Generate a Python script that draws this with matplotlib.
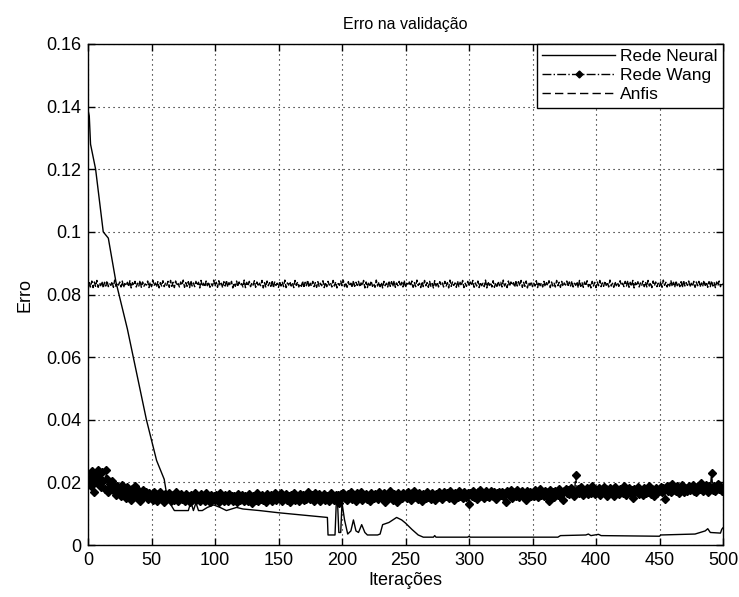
import numpy as np
import matplotlib
matplotlib.use("Agg")
import matplotlib.pyplot as plt
from matplotlib import font_manager

# ---------------- data ----------------
title = "Erro na validação"
xlabel = "Iterações"
ylabel = "Erro"
series_names = ["Rede Neural", "Rede Wang", "Anfis"]
xticks = [0, 50, 100, 150, 200, 250, 300, 350, 400, 450, 500]
yticks = [0, 0.02, 0.04, 0.06, 0.08, 0.1, 0.12, 0.14, 0.16]
ytick_labels = ["0", "0.02", "0.04", "0.06", "0.08", "0.1", "0.12", "0.14", "0.16"]

# Rede Neural: breakpoints (iteration, error)
neural_x = [0, 1, 2, 6, 12, 16, 22, 31, 46, 54, 60, 62, 65, 68, 79, 81, 83, 85, 87, 90,
            94, 99, 104, 109, 117, 122, 135, 150, 188.5, 189, 194.5, 195.5, 196.5, 197.5,
            199, 200, 202, 204.5, 207, 209, 211, 213, 215.5, 218, 220, 228, 230, 232, 237,
            243, 247, 250, 255, 260, 264, 272, 273, 274, 299, 300, 301, 370, 372, 392, 394,
            396, 402, 404, 450, 451, 478, 486, 488, 490, 498, 499, 500]
neural_y = [0.139, 0.137, 0.128, 0.120, 0.100, 0.098, 0.084, 0.069, 0.040, 0.027, 0.021,
            0.016, 0.013, 0.011, 0.011, 0.0138, 0.011, 0.0135, 0.011, 0.011, 0.012, 0.0128,
            0.012, 0.011, 0.012, 0.0115, 0.011, 0.0103, 0.0088, 0.0032, 0.0032, 0.0135,
            0.0135, 0.004, 0.004, 0.0135, 0.008, 0.0035, 0.0045, 0.008, 0.0045, 0.0040,
            0.0065, 0.0040, 0.0032, 0.0032, 0.0035, 0.0065, 0.0072, 0.0088, 0.0080, 0.0070,
            0.0050, 0.0032, 0.0025, 0.0025, 0.0030, 0.0025, 0.0025, 0.0028, 0.0025, 0.0025,
            0.0030, 0.0032, 0.0035, 0.0030, 0.0034, 0.0030, 0.0028, 0.0032, 0.0035, 0.0045,
            0.0052, 0.0040, 0.0038, 0.0050, 0.0055]

# Rede Wang: one value per iteration, in units of 1e-4
wang_e4 = [
    205, 228, 190, 236, 212, 170, 224, 198, 240, 215, 185, 232, 203, 178, 238, 210, 168, 195, 182, 205, 176, 190, 160, 188, 172,
    180, 158, 192, 166, 175, 150, 185, 162, 170, 145, 178, 160, 188, 152, 168, 172, 140, 165, 176, 155, 162, 170, 148, 166, 158,
    160, 145, 168, 152, 140, 162, 150, 170, 147, 158, 138, 164, 153, 149, 166, 142, 156, 160, 144, 168, 151, 139, 159, 163, 146,
    152, 141, 163, 148, 157, 136, 160, 145, 154, 167, 143, 150, 158, 139, 162, 147, 155, 140, 165, 149, 153, 138, 161, 146, 157,
    144, 159, 151, 137, 166, 148, 155, 142, 160, 150, 139, 163, 147, 156, 141, 158, 152, 136, 164, 149, 145, 161, 153, 140, 157,
    150, 142, 162, 147, 134, 158, 153, 145, 165, 139, 156, 148, 160, 143, 151, 137, 163, 155, 146, 159, 141, 152, 166, 144, 157,
    153, 146, 165, 140, 158, 151, 162, 144, 155, 138, 160, 149, 167, 145, 156, 152, 141, 164, 150, 159, 143, 157, 148, 168, 154,
    147, 160, 152, 142, 166, 155, 149, 162, 139, 157, 151, 164, 145, 158, 153, 140, 167, 150, 156, 143, 161, 148, 159, 135, 163,
    154, 166, 149, 158, 143, 162, 155, 170, 147, 160, 152, 140, 165, 157, 150, 168, 145, 159, 153, 163, 148, 156, 142, 167, 158,
    151, 164, 157, 146, 170, 155, 160, 148, 166, 138, 158, 162, 150, 172, 154, 145, 163, 159, 136, 167, 153, 161, 149, 165, 156,
    160, 150, 168, 155, 145, 165, 158, 172, 152, 162, 147, 167, 156, 140, 163, 159, 150, 170, 154, 161, 148, 166, 157, 143, 164,
    158, 168, 152, 163, 147, 170, 160, 155, 166, 150, 173, 157, 162, 145, 167, 159, 153, 171, 156, 164, 149, 168, 161, 154, 165,
    131, 166, 158, 172, 153, 164, 148, 169, 160, 175, 155, 163, 150, 171, 158, 166, 152, 174, 161, 156, 168, 147, 165, 159, 170,
    160, 170, 155, 166, 138, 172, 162, 158, 175, 150, 168, 163, 157, 177, 152, 167, 160, 171, 154, 165, 145, 173, 161, 169, 156,
    167, 158, 175, 163, 152, 170, 178, 161, 166, 155, 173, 159, 168, 141, 176, 162, 169, 154, 172, 165, 160, 179, 157, 170, 144,
    171, 180, 166, 176, 162, 183, 170, 174, 158, 224, 168, 178, 165, 185, 172, 160, 177, 169, 182, 163, 175, 167, 188, 171, 164,
    176, 168, 183, 160, 174, 170, 186, 165, 178, 155, 172, 181, 167, 175, 158, 184, 169, 177, 163, 180, 171, 166, 187, 173, 161,
    170, 182, 165, 176, 150, 179, 168, 174, 185, 162, 177, 171, 160, 183, 166, 175, 169, 188, 164, 178, 172, 158, 181, 167, 176,
    175, 186, 170, 181, 148, 179, 190, 173, 184, 168, 196, 177, 182, 171, 188, 165, 180, 175, 192, 169, 183, 178, 172, 189, 176,
    180, 192, 174, 186, 170, 189, 183, 178, 197, 172, 185, 179, 193, 168, 187, 181, 230, 176, 190, 173, 184, 196, 178, 188, 171, 175,
]

# Anfis: one value per iteration, in units of 1e-4
anfis_e4 = [
    812, 838, 824, 843, 822, 840, 826, 845, 823, 836, 828, 842, 821, 839, 827, 844, 825, 834, 829, 841,
    823, 846, 826, 837, 830, 840, 824, 843, 822, 835, 828, 839, 825, 844, 821, 838, 829, 842, 824, 836,
    827, 845, 823, 840, 826, 834, 830, 843, 822, 839, 825, 846, 828, 837, 824, 841, 821, 838, 827, 844,
    825, 836, 829, 842, 823, 845, 826, 839, 822, 843, 828, 835, 824, 840, 830, 846, 823, 838, 826, 841,
    822, 844, 827, 837, 825, 842, 829, 839, 821, 845, 826, 836, 824, 843, 828, 840, 823, 834, 827, 846,
    826, 839, 823, 844, 828, 836, 822, 841, 827, 845, 824, 838, 829, 842, 821, 837, 826, 843, 825, 840,
    829, 835, 824, 846, 822, 839, 827, 842, 825, 837, 830, 844, 823, 840, 826, 836, 828, 845, 821, 838,
    824, 843, 828, 838, 826, 845, 821, 840, 829, 836, 823, 842, 827, 839, 825, 846, 822, 837, 830, 841,
    827, 837, 822, 845, 829, 840, 824, 834, 826, 843, 821, 839, 828, 846, 823, 836, 827, 842, 825, 838,
    823, 841, 826, 836, 828, 844, 822, 839, 825, 842, 830, 837, 824, 845, 827, 840, 821, 835, 829, 843,
    828, 846, 825, 838, 823, 841, 827, 836, 822, 844, 826, 839, 829, 842, 824, 837, 828, 845, 821, 840,
    822, 839, 829, 843, 826, 835, 823, 846, 827, 840, 825, 838, 821, 842, 828, 836, 824, 844, 826, 841,
    825, 844, 823, 837, 828, 842, 826, 839, 824, 845, 822, 836, 829, 840, 827, 843, 823, 838, 825, 846,
    829, 836, 822, 841, 825, 845, 828, 838, 823, 842, 826, 835, 821, 844, 827, 839, 824, 841, 830, 837,
    824, 842, 827, 838, 821, 846, 826, 840, 829, 837, 823, 843, 825, 839, 828, 845, 822, 836, 826, 842,
    826, 840, 829, 845, 823, 837, 827, 843, 822, 839, 828, 836, 825, 846, 821, 841, 829, 838, 824, 844,
    823, 837, 826, 842, 828, 839, 824, 846, 827, 835, 822, 843, 826, 840, 830, 838, 823, 845, 827, 841,
    828, 845, 823, 839, 826, 843, 821, 838, 829, 841, 825, 836, 827, 844, 822, 840, 828, 837, 824, 842,
    825, 838, 829, 844, 822, 840, 827, 836, 824, 845, 828, 839, 823, 842, 826, 837, 830, 843, 825, 840,
    827, 843, 824, 836, 829, 841, 822, 845, 826, 838, 823, 840, 828, 844, 825, 837, 821, 842, 827, 839,
    822, 840, 828, 845, 825, 837, 826, 843, 829, 839, 824, 846, 827, 836, 823, 841, 828, 838, 826, 844,
    829, 836, 825, 842, 827, 844, 823, 839, 826, 845, 821, 838, 828, 841, 824, 837, 829, 843, 825, 840,
    824, 845, 827, 838, 822, 843, 828, 840, 825, 836, 826, 842, 823, 846, 829, 839, 824, 837, 827, 844,
    826, 839, 823, 844, 828, 837, 825, 841, 822, 845, 827, 838, 829, 843, 824, 836, 826, 842, 823, 840,
    828, 842, 824, 837, 826, 845, 829, 839, 823, 841, 825, 844, 827, 838, 822, 840, 828, 843, 825, 837,
    830,
]

# ---------------- plot ----------------
def pick_font():
    names = {f.name for f in font_manager.fontManager.ttflist}
    for n in ["Liberation Sans Narrow", "Liberation Sans", "DejaVu Sans"]:
        if n in names:
            return n
    return "DejaVu Sans"

plt.rcParams["font.family"] = [pick_font(), "DejaVu Sans"]

fig = plt.figure(figsize=(7.39, 5.97), dpi=100)
ax = fig.add_axes([88 / 739, 1 - 545 / 597, (723 - 88) / 739, (545 - 44) / 597])

wang = np.array(wang_e4) * 1e-4
anfis = np.array(anfis_e4) * 1e-4

ax.plot(neural_x, neural_y, color="black", lw=1.0, ls="-", label=series_names[0], zorder=3)
ax.plot(np.arange(len(wang)), wang, color="black", lw=1.0, ls="-.", marker="D",
        markersize=4.2, label=series_names[1], zorder=4)
ax.plot(np.arange(len(anfis)), anfis, color="black", lw=1.0, ls="--", dashes=(4, 1.5),
        label=series_names[2], zorder=3)

ax.set_xlim(0, 500)
ax.set_ylim(0, 0.16)
ax.set_xticks(xticks)
ax.set_xticklabels([str(t) for t in xticks])
ax.set_yticks(yticks)
ax.set_yticklabels(ytick_labels)
ax.tick_params(direction="in", length=5, width=1, top=True, right=True,
               labelsize=13, colors="black", pad=5)
ax.grid(True, color="black", linestyle=(0, (1, 3.5)), linewidth=0.8)
for s in ax.spines.values():
    s.set_linewidth(1.0)

ax.set_title(title, fontsize=11.5, pad=11)
ax.set_xlabel(xlabel, fontsize=13, labelpad=2)
ax.set_ylabel(ylabel, fontsize=13, labelpad=9)

leg = ax.legend(loc="upper right", fancybox=False, framealpha=1, edgecolor="black",
                fontsize=12.5, handlelength=4.2, handletextpad=0.3, borderaxespad=0,
                borderpad=0.3, labelspacing=0.22)
leg.get_frame().set_linewidth(1.0)
leg.legend_handles[1].set_markersize(3.5)
leg.legend_handles[2].set_dashes((6, 3))

fig.savefig("out.png", dpi=100)
